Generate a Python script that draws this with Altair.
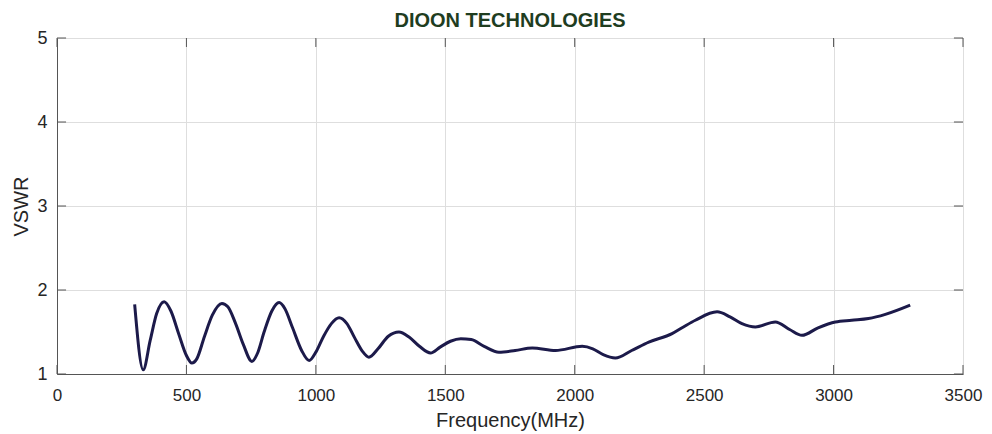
import altair as alt
import pandas as pd

freq = [300, 333, 360, 385, 414, 440, 470, 500, 521, 540, 570, 600, 637, 660, 690, 720, 753,
        775, 800, 830, 858, 880, 910, 945, 974, 1000, 1030, 1060, 1090, 1120, 1150, 1180, 1205,
        1240, 1280, 1321, 1360, 1400, 1443, 1480, 1520, 1560, 1600, 1650, 1707, 1770, 1836,
        1926, 2029, 2070, 2110, 2157, 2220, 2286, 2376, 2420, 2466, 2550, 2600, 2646, 2698,
        2775, 2830, 2878, 2940, 3007, 3070, 3135, 3200, 3296]
vswr = [1.83, 1.05, 1.40, 1.72, 1.86, 1.75, 1.48, 1.22, 1.13, 1.18, 1.45, 1.70, 1.84, 1.80, 1.60,
        1.35, 1.15, 1.25, 1.50, 1.75, 1.85, 1.78, 1.55, 1.28, 1.16, 1.26, 1.45, 1.60, 1.67, 1.60,
        1.43, 1.27, 1.20, 1.30, 1.45, 1.50, 1.44, 1.33, 1.25, 1.32, 1.39, 1.42, 1.41, 1.33, 1.26,
        1.28, 1.31, 1.28, 1.33, 1.30, 1.23, 1.19, 1.28, 1.38, 1.48, 1.56, 1.64, 1.74, 1.68, 1.60,
        1.56, 1.62, 1.53, 1.46, 1.55, 1.62, 1.64, 1.66, 1.71, 1.82]

x_ticks = [0, 500, 1000, 1500, 2000, 2500, 3000, 3500]
y_ticks = [1, 2, 3, 4, 5]

df = pd.DataFrame({"f": freq, "v": vswr})

FONT = "Liberation Sans"
TXT = "#262626"
AX = "#555555"

xs = alt.Scale(domain=[0, 3500], nice=False, zero=False)
ys = alt.Scale(domain=[1, 5], nice=False, zero=False)

x_axis = alt.Axis(values=x_ticks, format="d", grid=True, gridColor="#dedede",
                  ticks=False, labelPadding=13, titlePadding=7, labelFlush=False,
                  domainColor=AX, labelFontSize=17, titleFontSize=20,
                  labelColor=TXT, titleColor=TXT, titleFontWeight="normal",
                  labelFont=FONT, titleFont=FONT)
y_axis = alt.Axis(values=y_ticks, format="d", grid=True, gridColor="#dedede",
                  ticks=False, labelPadding=10, titlePadding=5, labelFlush=False,
                  domainColor=AX, labelFontSize=18, titleFontSize=20,
                  labelColor=TXT, titleColor=TXT, titleFontWeight="normal",
                  labelFont=FONT, titleFont=FONT)

line = alt.Chart(df).mark_line(color="#1c1a4a", strokeWidth=3, interpolate="monotone").encode(
    x=alt.X("f:Q", scale=xs, title="Frequency(MHz)", axis=x_axis),
    y=alt.Y("v:Q", scale=ys, title="VSWR", axis=y_axis),
)

xt = pd.DataFrame({"t": x_ticks})
yt = pd.DataFrame({"t": y_ticks})

TY = 0.107   # tick length in VSWR units
TX = 35      # tick length in MHz units

bottom_ticks = alt.Chart(xt).mark_rule(color=AX, strokeWidth=1).encode(
    x=alt.X("t:Q", scale=xs), y=alt.Y(datum=1, scale=ys), y2=alt.Y2(datum=1 + TY))
top_ticks = alt.Chart(xt).mark_rule(color=AX, strokeWidth=1).encode(
    x=alt.X("t:Q", scale=xs), y=alt.Y(datum=5, scale=ys), y2=alt.Y2(datum=5 - TY))
left_ticks = alt.Chart(yt).mark_rule(color=AX, strokeWidth=1).encode(
    y=alt.Y("t:Q", scale=ys), x=alt.X(datum=0, scale=xs), x2=alt.X2(datum=TX))
right_ticks = alt.Chart(yt).mark_rule(color=AX, strokeWidth=1).encode(
    y=alt.Y("t:Q", scale=ys), x=alt.X(datum=3500, scale=xs), x2=alt.X2(datum=3500 - TX))

chart = alt.layer(line, bottom_ticks, top_ticks, left_ticks, right_ticks).properties(
    width=906, height=336,
    title=alt.TitleParams("DIOON TECHNOLOGIES", font=FONT, fontSize=20, fontWeight="bold",
                          color="#1f3d1f", anchor="middle", frame="group", offset=-2),
    autosize=alt.AutoSizeParams(type="none"),
    padding={"left": 49, "top": 30, "right": 21, "bottom": 60},
).configure_view(stroke=AX, strokeWidth=1).configure(background="white")

chart.save("out.html", embed_options={"renderer": "svg", "actions": False})
